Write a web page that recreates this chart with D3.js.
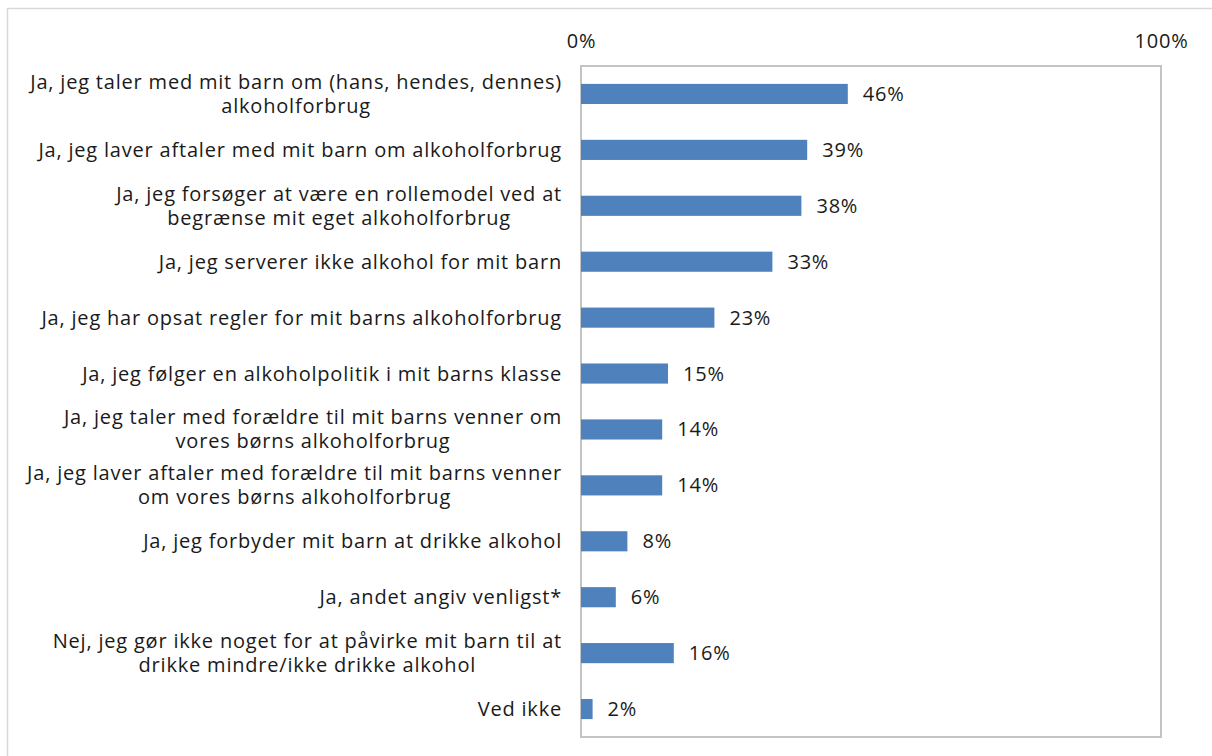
<!DOCTYPE html>
<html>
<head>
<meta charset="utf-8">
<script src="https://cdn.jsdelivr.net/npm/d3@7"></script>
<style>
  body { margin: 0; background: #fff; }
  text { font-family: 'Open Sans', 'Noto Sans', sans-serif; fill: #1a1a1a; }
</style>
</head>
<body>
<div id="chart"></div>
<script>
const categories = [
  ['Ja, jeg taler med mit barn om (hans, hendes, dennes)', 'alkoholforbrug'],
  ['Ja, jeg laver aftaler med mit barn om alkoholforbrug'],
  ['Ja, jeg forsøger at være en rollemodel ved at', 'begrænse mit eget alkoholforbrug'],
  ['Ja, jeg serverer ikke alkohol for mit barn'],
  ['Ja, jeg har opsat regler for mit barns alkoholforbrug'],
  ['Ja, jeg følger en alkoholpolitik i mit barns klasse'],
  ['Ja, jeg taler med forældre til mit barns venner om', 'vores børns alkoholforbrug'],
  ['Ja, jeg laver aftaler med forældre til mit barns venner', 'om vores børns alkoholforbrug'],
  ['Ja, jeg forbyder mit barn at drikke alkohol'],
  ['Ja, andet angiv venligst*'],
  ['Nej, jeg gør ikke noget for at påvirke mit barn til at', 'drikke mindre/ikke drikke alkohol'],
  ['Ved ikke']
];
const values = [46, 39, 38, 33, 23, 15, 14, 14, 8, 6, 16, 2];
const tickValues = [0, 100];

const W = 1212, H = 756;
const margin = { top: 66, right: 51, bottom: 19, left: 581 };
const width = W - margin.left - margin.right,
      height = H - margin.top - margin.bottom;
const fontSize = 20, spacing = 0.8;

const root = d3.select('#chart').append('svg')
  .attr('width', W).attr('height', H);

// outer chart frame (partly off-screen)
root.append('rect')
  .attr('x', 7.5).attr('y', 8.5)
  .attr('width', W + 20).attr('height', H + 20)
  .attr('fill', 'none').attr('stroke', '#d9d9d9').attr('stroke-width', 1.5);

const svg = root.append('g')
  .attr('transform', 'translate(' + margin.left + ',' + margin.top + ')');

const x = d3.scaleLinear().domain([0, 100]).range([0, width]);
const y = d3.scaleBand()
  .domain(d3.range(categories.length))
  .range([0, height])
  .paddingInner(0.64).paddingOuter(0.32);

// plot box
svg.append('rect')
  .attr('x', 0).attr('y', 0)
  .attr('width', width).attr('height', height)
  .attr('fill', 'none').attr('stroke', '#c4c4c4').attr('stroke-width', 2);

// top axis
const xAxis = svg.append('g')
  .call(d3.axisTop(x).tickValues(tickValues).tickFormat(d => d + '%').tickSize(0).tickPadding(18));
xAxis.select('.domain').remove();
xAxis.selectAll('text')
  .style('font-size', fontSize + 'px').style('letter-spacing', spacing + 'px')
  .attr('fill', '#1a1a1a');

// bars
svg.selectAll('.bar')
  .data(values)
  .join('rect')
    .attr('class', 'bar')
    .attr('x', x(0))
    .attr('y', (d, i) => y(i))
    .attr('width', d => x(d) - x(0))
    .attr('height', y.bandwidth())
    .attr('fill', '#4f81bd');

// value labels
svg.selectAll('.val')
  .data(values)
  .join('text')
    .attr('class', 'val')
    .attr('x', d => x(d) + 15)
    .attr('y', (d, i) => y(i) + y.bandwidth() / 2)
    .attr('dy', '0.35em')
    .style('font-size', fontSize + 'px')
    .style('letter-spacing', spacing + 'px')
    .text(d => d + '%');

// category labels: block right-aligned, lines centred within the block
const lineH = 24;
const labels = svg.selectAll('.cat')
  .data(categories)
  .join('text')
    .attr('class', 'cat')
    .style('font-size', fontSize + 'px')
    .style('letter-spacing', spacing + 'px')
    .attr('text-anchor', 'middle');

labels.each(function(lines, i) {
  const t = d3.select(this);
  const cy = y(i) + y.bandwidth() / 2;
  const spans = lines.map((l, k) => t.append('tspan')
    .attr('y', cy + (k - (lines.length - 1) / 2) * lineH)
    .attr('dy', '0.35em')
    .text(l));
  const maxW = d3.max(spans, s => s.node().getComputedTextLength());
  spans.forEach(s => s.attr('x', -19 - maxW / 2));
});
</script>
</body>
</html>
